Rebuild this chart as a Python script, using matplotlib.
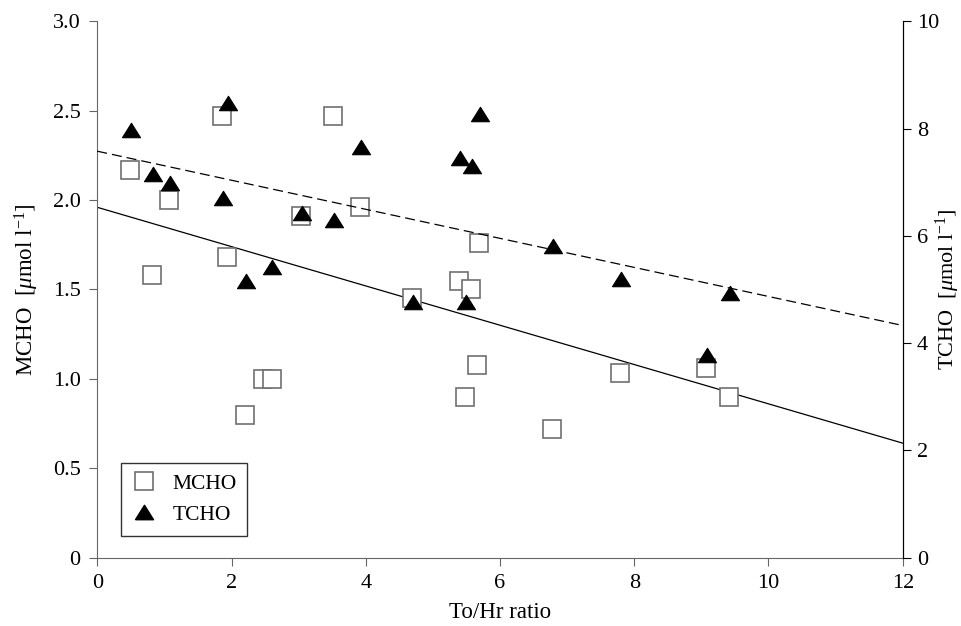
import matplotlib
matplotlib.use('Agg')
import matplotlib.pyplot as plt
import numpy as np
from matplotlib.lines import Line2D

plt.rcParams['font.family'] = ['Liberation Serif', 'DejaVu Serif']
plt.rcParams['mathtext.fontset'] = 'custom'
plt.rcParams['mathtext.rm'] = 'Liberation Serif'
plt.rcParams['mathtext.it'] = 'Liberation Serif:italic'

# MCHO (left axis)
mcho_x = [0.49, 0.81, 1.07, 1.86, 1.93, 2.20, 2.47, 2.60, 3.03, 3.51, 3.91,
          4.69, 5.39, 5.48, 5.57, 5.66, 5.68, 6.78, 7.79, 9.07, 9.41]
mcho_y = [2.17, 1.58, 2.00, 2.47, 1.68, 0.80, 1.00, 1.00, 1.91, 2.47, 1.96,
          1.45, 1.55, 0.90, 1.50, 1.08, 1.76, 0.72, 1.03, 1.06, 0.90]

# TCHO (right axis)
tcho_x = [0.50, 0.83, 1.08, 1.95, 1.88, 2.22, 2.60, 3.05, 3.52, 3.93,
          4.70, 5.40, 5.49, 5.59, 5.70, 6.79, 7.81, 9.09, 9.43]
tcho_y = [7.97, 7.16, 6.99, 8.48, 6.70, 5.15, 5.42, 6.42, 6.30, 7.65,
          4.77, 7.46, 4.77, 7.30, 8.28, 5.81, 5.20, 3.77, 4.94]

# regression lines (intercept, slope)
mcho_fit = (1.96, -0.110)
tcho_fit = (7.58, -0.271)

fit_x = np.array([0, 12])

fig = plt.figure(figsize=(9.62, 6.26), dpi=100)
ax = fig.add_axes([0.1011, 0.1094, 0.8373, 0.8563])
ax2 = ax.twinx()

tri = [(-1, -0.8), (1, -0.8), (0, 0.8), (-1, -0.8)]

ax.plot(fit_x, mcho_fit[0] + mcho_fit[1] * fit_x, color='black', lw=0.9)
ax.plot(mcho_x, mcho_y, ls='none', marker='s', ms=13, mfc='white',
        mec='#707070', mew=1.2)

ax2.plot(fit_x, tcho_fit[0] + tcho_fit[1] * fit_x, color='black', lw=0.9,
         dashes=(8, 4))
ax2.plot(tcho_x, tcho_y, ls='none', marker=tri, ms=13, mfc='black',
         mec='black', mew=0.8)

ax.set_xlim(0, 12)
ax.set_ylim(0, 3.0)
ax2.set_ylim(0, 10)
ax.set_xticks(range(0, 13, 2))
ax.set_yticks([0, 0.5, 1.0, 1.5, 2.0, 2.5, 3.0])
ax.set_yticklabels(['0', '0.5', '1.0', '1.5', '2.0', '2.5', '3.0'])
ax2.set_yticks(range(0, 11, 2))

for a in (ax, ax2):
    a.spines['top'].set_visible(False)
ax.spines['left'].set_color('#666666')
ax.spines['bottom'].set_color('#666666')
ax2.spines['left'].set_visible(False)
ax2.spines['bottom'].set_visible(False)
ax2.spines['right'].set_color('black')

ax.tick_params(axis='both', labelsize=16, length=6, pad=6, color='#666666')
ax2.tick_params(axis='y', labelsize=16, length=6, pad=4, color='black')

ax.set_xlabel('To/Hr ratio', fontsize=16.5)
ax.set_ylabel(r'MCHO  [$\mu$mol l$^{-1}$]', fontsize=16.5)
ax2.set_ylabel(r'TCHO  [$\mu$mol l$^{-1}$]', fontsize=16)
ax.xaxis.set_label_coords(0.5, -0.083)
ax.yaxis.set_label_coords(-0.070, 0.5)
ax2.yaxis.set_label_coords(1.039, 0.5)

handles = [
    Line2D([], [], ls='none', marker='s', ms=13, mfc='white', mec='#707070',
           mew=1.2, label='MCHO'),
    Line2D([], [], ls='none', marker=tri, ms=13, mfc='black', mec='black',
           label='TCHO'),
]
leg = ax2.legend(handles=handles, loc='lower left',
                 bbox_to_anchor=(0.029, 0.041), borderaxespad=0,
                 fontsize=15.5, frameon=True, fancybox=False,
                 edgecolor='black', handlelength=1.2, handletextpad=0.7,
                 borderpad=0.5, labelspacing=0.5)
leg.get_frame().set_linewidth(1.0)

plt.savefig('out.png', dpi=100)
plt.close()
